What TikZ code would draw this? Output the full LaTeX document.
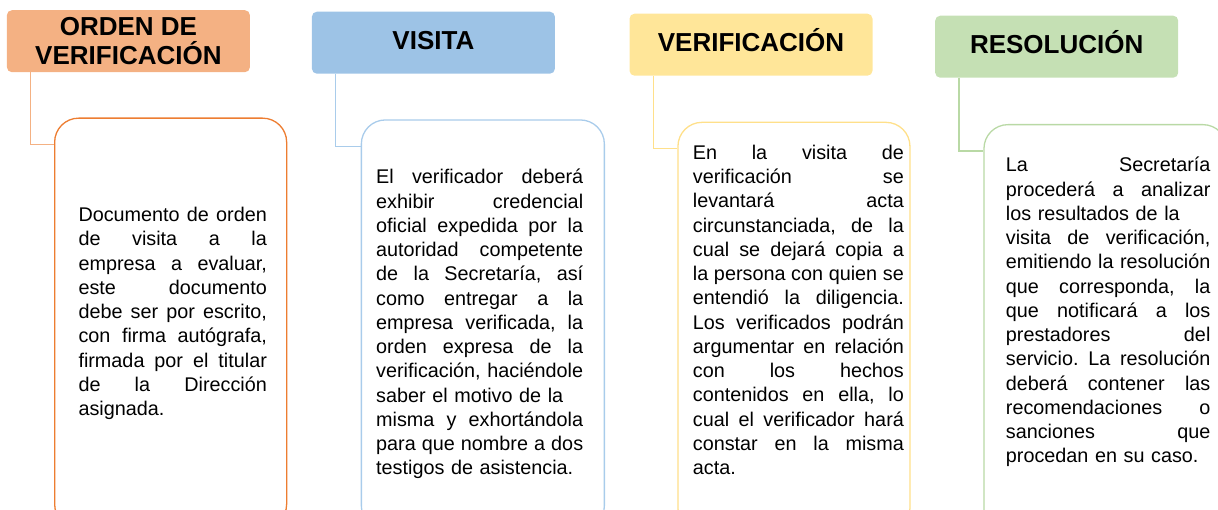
\documentclass[tikz,border=0pt]{standalone}
\usepackage{fontspec}
\setmainfont{Liberation Sans}
\usepackage{tikz}

\definecolor{ordfill}{HTML}{F4B183}
\definecolor{ordline}{HTML}{ED7D31}
\definecolor{visfill}{HTML}{9DC3E6}
\definecolor{visline}{HTML}{A9CCEB}
\definecolor{verfill}{HTML}{FFE699}
\definecolor{verline}{HTML}{FFE08A}
\definecolor{resfill}{HTML}{C5E0B4}
\definecolor{resline}{HTML}{B9D9A5}

% one justified line of a card
\newlength{\cardw}
\newcommand{\jline}[1]{\leavevmode\hbox to \cardw{%
  \spaceskip=\fontdimen2\font plus 1fil\relax #1}}

\begin{document}
\begin{tikzpicture}
        [x=1pt, y=-1pt,
        head/.style={rectangle, rounded corners=5pt, anchor=north west, inner sep=0pt,
          minimum width=243pt, minimum height=62pt, align=center,
          font=\bfseries\fontsize{26}{28.4}\selectfont},
        oneline/.style={text height=18.6pt, text depth=5pt},
        card/.style={rectangle, rounded corners=24pt, line width=1.3pt, fill=white,
          anchor=north west, minimum height=410pt},
        body/.style={anchor=base west, inner sep=0pt, align=left, text width=#1,
          execute at begin node={\setlength{\cardw}{#1}},
          font=\fontsize{19.8}{24.25}\selectfont\frenchspacing},
        link/.style={line width=1.3pt}]
        \useasboundingbox (0, 0) rectangle (1218, 510);
        \clip (0, 0) rectangle (1218, 510);
        % headers
        \node (h1) at (6.7, 10) [head, fill=ordfill] {ORDEN DE\\VERIFICACIÓN};
        \node (h2) at (311.7, 11.5) [head, oneline, fill=visfill] {VISITA};
        \node (h3) at (629.3, 13.5) [head, oneline, fill=verfill] {VERIFICACIÓN};
        \node (h4) at (935, 15.5) [head, oneline, fill=resfill] {RESOLUCIÓN};
        % cards
        \node (b1) at (54, 117.5) [card, draw=ordline, minimum width=232pt] {};
        \node (b2) at (360.7, 119.3) [card, draw=visline, minimum width=243pt] {};
        \node (b3) at (677.3, 121.7) [card, draw=verline, minimum width=232pt] {};
        \node (b4) at (983.3, 124) [card, draw=resline, minimum width=243pt] {};
        % links
        \draw[link, ordfill] ([xshift=24pt]h1.south west) |- ([yshift=-27pt]b1.north west);
        \draw[link, visline] ([xshift=24pt]h2.south west) |- ([yshift=-27pt]b2.north west);
        \draw[link, verline] ([xshift=24pt]h3.south west) |- ([yshift=-27pt]b3.north west);
        \draw[link, resline] ([xshift=24pt]h4.south west) |- ([yshift=-27pt]b4.north west);
        % texts
        \node (t1) at (78.3, 221.7) [body=188.4pt] {%
          \jline{Documento de orden}\\
          \jline{de visita a la}\\
          \jline{empresa a evaluar,}\\
          \jline{este documento}\\
          \jline{debe ser por escrito,}\\
          \jline{con firma autógrafa,}\\
          \jline{firmada por el titular}\\
          \jline{de la Dirección}\\
          asignada.};
        \node (t2) at (376, 184) [body=207pt] {%
          \jline{El verificador deberá}\\
          \jline{exhibir credencial}\\
          \jline{oficial expedida por la}\\
          \jline{autoridad competente}\\
          \jline{de la Secretaría, así}\\
          \jline{como entregar a la}\\
          \jline{empresa verificada, la}\\
          \jline{orden expresa de la}\\
          \jline{verificación, haciéndole}\\
          saber el motivo de la\\
          \jline{misma y exhortándola}\\
          \jline{para que nombre a dos}\\
          testigos de asistencia.};
        \node (t3) at (692.7, 159.5) [body=211pt] {%
          \jline{En la visita de}\\
          \jline{verificación se}\\
          \jline{levantará acta}\\
          \jline{circunstanciada, de la}\\
          \jline{cual se dejará copia a}\\
          \jline{la persona con quien se}\\
          \jline{entendió la diligencia.}\\
          \jline{Los verificados podrán}\\
          \jline{argumentar en relación}\\
          \jline{con los hechos}\\
          \jline{contenidos en ella, lo}\\
          \jline{cual el verificador hará}\\
          \jline{constar en la misma}\\
          acta.};
        \node (t4) at (1005.7, 172) [body=204.5pt] {%
          \jline{La Secretaría}\\
          \jline{procederá a analizar}\\
          los resultados de la\\
          \jline{visita de verificación,}\\
          \jline{emitiendo la resolución}\\
          \jline{que corresponda, la}\\
          \jline{que notificará a los}\\
          \jline{prestadores del}\\
          \jline{servicio. La resolución}\\
          \jline{deberá contener las}\\
          \jline{recomendaciones o}\\
          \jline{sanciones que}\\
          procedan en su caso.};
     \end{tikzpicture}
\end{document}
